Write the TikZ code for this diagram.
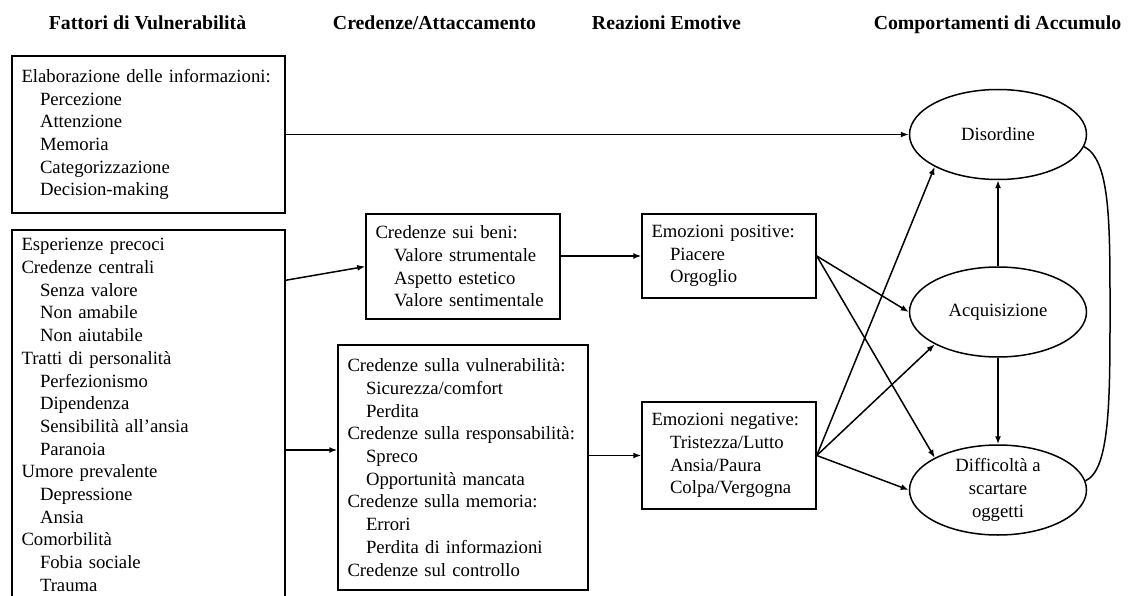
\documentclass[tikz,border=0pt]{standalone}
\usepackage{fontspec}
\setmainfont{Liberation Serif}
\usetikzlibrary{shapes.geometric,arrows.meta}
\newcommand\myind{\hspace*{18.5pt}}
\begin{document}
\begin{tikzpicture}[x=1pt,y=-1pt,
  box/.style={draw, line width=1.5pt, rectangle, inner xsep=9.5pt, inner ysep=0pt, align=left, font=\fontsize{18.7}{22.7}\selectfont},
  ell/.style={draw, line width=1.5pt, ellipse, minimum width=177pt, minimum height=90pt, inner sep=0pt, align=center, font=\fontsize{18.7}{22.7}\selectfont},
  head/.style={font=\fontsize{19.8}{22}\selectfont\bfseries, anchor=base},
  arr/.style={line width=1.5pt, -{Latex[length=8pt,width=6pt]}},
  conn/.style={line width=1.5pt}]
\useasboundingbox[fill=white] (0,0) rectangle (1129,596);

\node[head] (h1) at (147.5,30) {Fattori di Vulnerabilità};
\node[head] (h2) at (434.5,30) {Credenze/Attaccamento};
\node[head] (h3) at (666.5,30) {Reazioni Emotive};
\node[head] (h4) at (997.5,30) {Comportamenti di Accumulo};

\node[box, text width=254pt, minimum height=157pt] (b1) at (148.5,134.5)
 {Elaborazione delle informazioni:\\\myind Percezione\\\myind Attenzione\\\myind Memoria\\\myind Categorizzazione\\\myind Decision-making};
\node[box, text width=254pt, minimum height=370pt] (b2) at (148.5,415)
 {Esperienze precoci\\Credenze centrali\\\myind Senza valore\\\myind Non amabile\\\myind Non aiutabile\\Tratti di personalità\\\myind Perfezionismo\\\myind Dipendenza\\\myind Sensibilità all’ansia\\\myind Paranoia\\Umore prevalente\\\myind Depressione\\\myind Ansia\\Comorbilità\\\myind Fobia sociale\\\myind Trauma};
\node[box, text width=175pt, minimum height=105pt] (b3) at (463,266.5)
 {Credenze sui beni:\\\myind Valore strumentale\\\myind Aspetto estetico\\\myind Valore sentimentale};
\node[box, text width=231pt, minimum height=245pt] (b4) at (463,467.5)
 {Credenze sulla vulnerabilità:\\\myind Sicurezza/comfort\\\myind Perdita\\Credenze sulla responsabilità:\\\myind Spreco\\\myind Opportunità mancata\\Credenze sulla memoria:\\\myind Errori\\\myind Perdita di informazioni\\Credenze sul controllo};
\node[box, text width=155pt, minimum height=84pt] (b5) at (729,256)
 {Emozioni positive:\\\myind Piacere\\\myind Orgoglio};
\node[box, text width=155pt, minimum height=107pt] (b6) at (729,455.5)
 {Emozioni negative:\\\myind Tristezza/Lutto\\\myind Ansia/Paura\\\myind Colpa/Vergogna};

\node[ell] (dis) at (998,134.5) {Disordine};
\node[ell] (acq) at (998,312) {Acquisizione};
\node[ell] (dif) at (998,490) {Difficoltà a\\scartare\\oggetti};

\draw[arr] (b1.east) -- (dis.west);
\draw[arr] ([yshift=-51pt]b2.north east) -- (b3.west);
\draw[arr] (b2.east |- 0,450) -- (b4.west |- 0,450);
\draw[arr] (b3.east |- b5) -- (b5.west);
\draw[arr] (b4.east |- b6) -- (b6.west);
\draw[arr] (b5.east) -- (acq.west);
\draw[arr] (b5.east) -- (dif.153);
\draw[arr] (b6.east) -- (dis.207);
\draw[arr] (b6.east) -- (acq.207);
\draw[arr] (b6.east) -- (dif.west);
\draw[arr] (acq.north) -- (dis.south);
\draw[arr] (acq.south) -- (dif.north);
\draw[conn] (dis.-8) .. controls (1110,160) and (1110,220) .. (1110,310) .. controls (1110,400) and (1110,470) .. (dif.6);
\end{tikzpicture}
\end{document}
